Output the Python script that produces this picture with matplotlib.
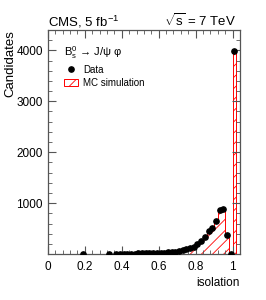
import numpy as np
import matplotlib
matplotlib.use("Agg")
import matplotlib.pyplot as plt
from matplotlib.lines import Line2D
from matplotlib.patches import Patch

plt.rcParams["font.family"] = ["Liberation Sans", "DejaVu Sans"]
plt.rcParams["mathtext.fontset"] = "custom"
plt.rcParams["mathtext.rm"] = "Liberation Sans"
plt.rcParams["mathtext.it"] = "Liberation Sans"
plt.rcParams["hatch.linewidth"] = 0.6

# data points (bin centres, candidates)
data_x = [0.19, 0.33, 0.37, 0.39, 0.41, 0.43, 0.45, 0.47, 0.49, 0.51, 0.53, 0.55,
          0.57, 0.59, 0.61, 0.63, 0.65, 0.67, 0.69, 0.71, 0.73, 0.75,
          0.77, 0.79, 0.81, 0.83, 0.85, 0.87, 0.89, 0.91, 0.93, 0.95,
          0.97, 0.99, 1.01]
data_y = [4, 4, 5, 6, 7, 8, 9, 10, 12, 13, 15, 17,
          20, 23, 27, 31, 36, 42, 50, 60, 75, 95,
          115, 145, 195, 260, 340, 455, 505, 655, 860, 880,
          375, 5, 3990]

# MC simulation histogram
mc_x = [0.37, 0.39, 0.41, 0.43, 0.45, 0.47, 0.49, 0.51, 0.53, 0.55,
        0.57, 0.59, 0.61, 0.63, 0.65, 0.67, 0.69, 0.71, 0.73, 0.75,
        0.77, 0.79, 0.81, 0.83, 0.85, 0.87, 0.89, 0.91, 0.93, 0.95,
        0.97, 0.99, 1.01]
mc_y = [4, 5, 6, 7, 9, 10, 12, 14, 16, 18,
        21, 24, 28, 33, 38, 45, 53, 63, 78, 95,
        118, 150, 190, 250, 320, 420, 500, 640, 870, 880,
        370, 0, 3960]
bin_w = 0.02

edges = [0.0] + [c - bin_w / 2 for c in mc_x] + [mc_x[-1] + bin_w / 2]
values = [0] + mc_y

fig = plt.figure(figsize=(2.66, 3.0), dpi=100)
ax = fig.add_axes([0.180, 0.153, 0.722, 0.747])

ax.stairs(values, edges, fill=True, facecolor="none", edgecolor="red",
          hatch="///", linewidth=0.7)
ax.plot(data_x, data_y, "o", color="black", markersize=3.8, zorder=3)

ax.set_xlim(0, 1.04)
ax.set_ylim(0, 4400)
ax.set_xticks([0, 0.2, 0.4, 0.6, 0.8, 1.0])
ax.set_xticklabels(["0", "0.2", "0.4", "0.6", "0.8", "1"])
ax.set_xticks(np.arange(0, 1.04, 0.04), minor=True)
ax.set_yticks([1000, 2000, 3000, 4000])
ax.set_yticks(np.arange(0, 4400, 200), minor=True)
ax.tick_params(which="both", direction="in", top=True, right=True,
               labelsize=8.5, color="#555555")
ax.tick_params(which="major", length=6, width=0.8)
ax.tick_params(which="minor", length=3, width=0.6)
ax.tick_params(axis="x", pad=5)
for s in ax.spines.values():
    s.set_color("#555555")
    s.set_linewidth(0.9)

ax.set_xlabel("isolation", fontsize=8.5, loc="right", labelpad=3)
ax.set_ylabel("Candidates", fontsize=9.5, loc="top")
ax.yaxis.set_label_coords(-0.165, 1.0)

fig.text(0.180, 0.912, "CMS, 5 fb$^{-1}$", fontsize=9.5, ha="left", va="baseline")
fig.text(0.888, 0.912, r"$\sqrt{s}$ = 7 TeV", fontsize=9.5, ha="right", va="baseline")

handles = [
    Line2D([], [], marker="o", color="black", linestyle="none", markersize=3.8),
    Patch(facecolor="none", edgecolor="red", hatch="///", linewidth=0.7),
]
leg = ax.legend(handles, ["Data", "MC simulation"], loc="upper left",
                bbox_to_anchor=(0.04, 0.975), frameon=False, fontsize=7,
                title=r"B$_{\rm s}^{0}$ → J/ψ φ", title_fontsize=8,
                alignment="left", handlelength=1.4, handletextpad=0.5,
                labelspacing=0.35)

fig.savefig("out.png", dpi=100)
